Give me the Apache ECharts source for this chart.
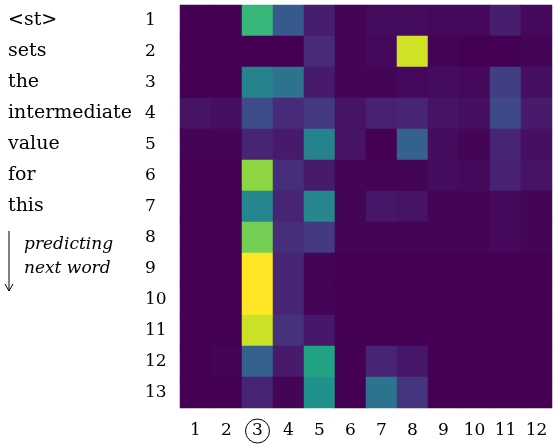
<!DOCTYPE html>
<html>
<head>
<meta charset="utf-8">
<script src="https://cdn.jsdelivr.net/npm/echarts@6/dist/echarts.min.js"></script>
<style>
html, body { margin: 0; padding: 0; background: #fff; }
#chart { width: 555px; height: 446px; }
</style>
</head>
<body>
<div id="chart"></div>
<script>
//行列标签
var cols = ['1', '2', '3', '4', '5', '6', '7', '8', '9', '10', '11', '12'];
var rows = ['1', '2', '3', '4', '5', '6', '7', '8', '9', '10', '11', '12', '13'];
var words = ['<st>', 'sets', 'the', 'intermediate', 'value', 'for', 'this'];

//每行的注意力权重 (0-1)
var row1 = [0.00, 0.00, 0.66, 0.28, 0.08, 0.01, 0.03, 0.03, 0.02, 0.02, 0.08, 0.02];
var row2 = [0.00, 0.00, 0.00, 0.00, 0.12, 0.01, 0.02, 0.93, 0.01, 0.00, 0.00, 0.01];
var row3 = [0.00, 0.00, 0.44, 0.38, 0.07, 0.01, 0.01, 0.02, 0.03, 0.02, 0.18, 0.04];
var row4 = [0.05, 0.04, 0.23, 0.12, 0.17, 0.05, 0.09, 0.10, 0.05, 0.04, 0.22, 0.07];
var row5 = [0.01, 0.01, 0.10, 0.07, 0.44, 0.05, 0.00, 0.31, 0.03, 0.01, 0.10, 0.04];
var row6 = [0.00, 0.00, 0.83, 0.13, 0.07, 0.01, 0.01, 0.01, 0.03, 0.02, 0.09, 0.05];
var row7 = [0.00, 0.00, 0.46, 0.10, 0.45, 0.01, 0.06, 0.05, 0.01, 0.01, 0.02, 0.01];
var row8 = [0.00, 0.00, 0.79, 0.13, 0.17, 0.01, 0.01, 0.01, 0.01, 0.01, 0.02, 0.01];
var row9 = [0.00, 0.00, 1.00, 0.10, 0.01, 0.00, 0.00, 0.00, 0.00, 0.00, 0.00, 0.00];
var row10 = [0.00, 0.00, 1.00, 0.10, 0.01, 0.00, 0.00, 0.00, 0.00, 0.00, 0.00, 0.00];
var row11 = [0.00, 0.00, 0.92, 0.14, 0.06, 0.00, 0.00, 0.00, 0.00, 0.00, 0.00, 0.00];
var row12 = [0.00, 0.01, 0.31, 0.07, 0.58, 0.00, 0.10, 0.06, 0.00, 0.00, 0.00, 0.00];
var row13 = [0.00, 0.00, 0.10, 0.01, 0.50, 0.00, 0.38, 0.15, 0.00, 0.00, 0.00, 0.00];
var matrix = [row1, row2, row3, row4, row5, row6, row7, row8, row9, row10, row11, row12, row13];

var viridis = ['#440154', '#482475', '#414487', '#355f8d', '#2a788e', '#21918c',
	'#22a884', '#44bf70', '#7ad151', '#bddf26', '#fde725'];

var font = 'DejaVu Serif';

var data = [];
for(var r = 0; r < matrix.length; r++) {
	for(var c = 0; c < matrix[r].length; c++) {
		data.push([c, r, matrix[r][c]]);
	}
}

var myChart = echarts.init(document.getElementById('chart'));
myChart.setOption({
	animation: false,
	grid: {
		left: 180,
		right: 3,
		top: 5,
		bottom: 38
	},
	xAxis: [{
		type: 'category',
		data: cols,
		axisLine: { show: false },
		axisTick: { show: false },
		splitLine: { show: false },
		axisLabel: {
			interval: 0,
			margin: 11,
			color: '#000',
			fontSize: 17,
			fontFamily: font,
			formatter: function(v, i) {
				if(i == 2) {
					return '{c|' + v + '}';
				}
				return '{n|' + v + '}';
			},
			rich: {
				n: {
					color: '#000',
					fontSize: 17,
					fontFamily: font,
					height: 24,
					lineHeight: 24
				},
				c: {
					color: '#000',
					fontSize: 17,
					fontFamily: font,
					width: 24,
					height: 24,
					lineHeight: 24,
					align: 'center',
					borderColor: '#000',
					borderWidth: 1,
					borderRadius: 13
				}
			}
		}
	}],
	yAxis: [{
		type: 'category',
		data: rows,
		inverse: true,
		axisLine: { show: false },
		axisTick: { show: false },
		splitLine: { show: false },
		axisLabel: {
			interval: 0,
			align: 'left',
			margin: 35,
			color: '#000',
			fontSize: 17,
			fontFamily: font
		}
	}, {
		type: 'category',
		data: rows,
		inverse: true,
		position: 'left',
		axisLine: { show: false },
		axisTick: { show: false },
		splitLine: { show: false },
		axisLabel: {
			interval: 0,
			align: 'left',
			margin: 172,
			color: '#000',
			fontSize: 19,
			fontFamily: font,
			formatter: function(v, i) {
				return words[i] || '';
			}
		}
	}],
	visualMap: {
		show: false,
		min: 0,
		max: 1,
		dimension: 2,
		inRange: {
			color: viridis
		}
	},
	series: [{
		type: 'heatmap',
		xAxisIndex: 0,
		yAxisIndex: 0,
		data: data,
		itemStyle: {
			borderWidth: 0
		},
		emphasis: { disabled: true }
	}],
	graphic: [{
		type: 'line',
		shape: { x1: 9, y1: 231, x2: 9, y2: 291 },
		style: { stroke: '#000', lineWidth: 1 }
	}, {
		type: 'polyline',
		shape: { points: [[5, 284], [9, 291], [13, 284]] },
		style: { stroke: '#000', lineWidth: 1, fill: null }
	}, {
		type: 'text',
		left: 24,
		top: 233,
		style: {
			text: 'predicting\nnext word',
			font: 'italic 17px "DejaVu Serif"',
			lineHeight: 24,
			fill: '#000'
		}
	}]
});
</script>
</body>
</html>
